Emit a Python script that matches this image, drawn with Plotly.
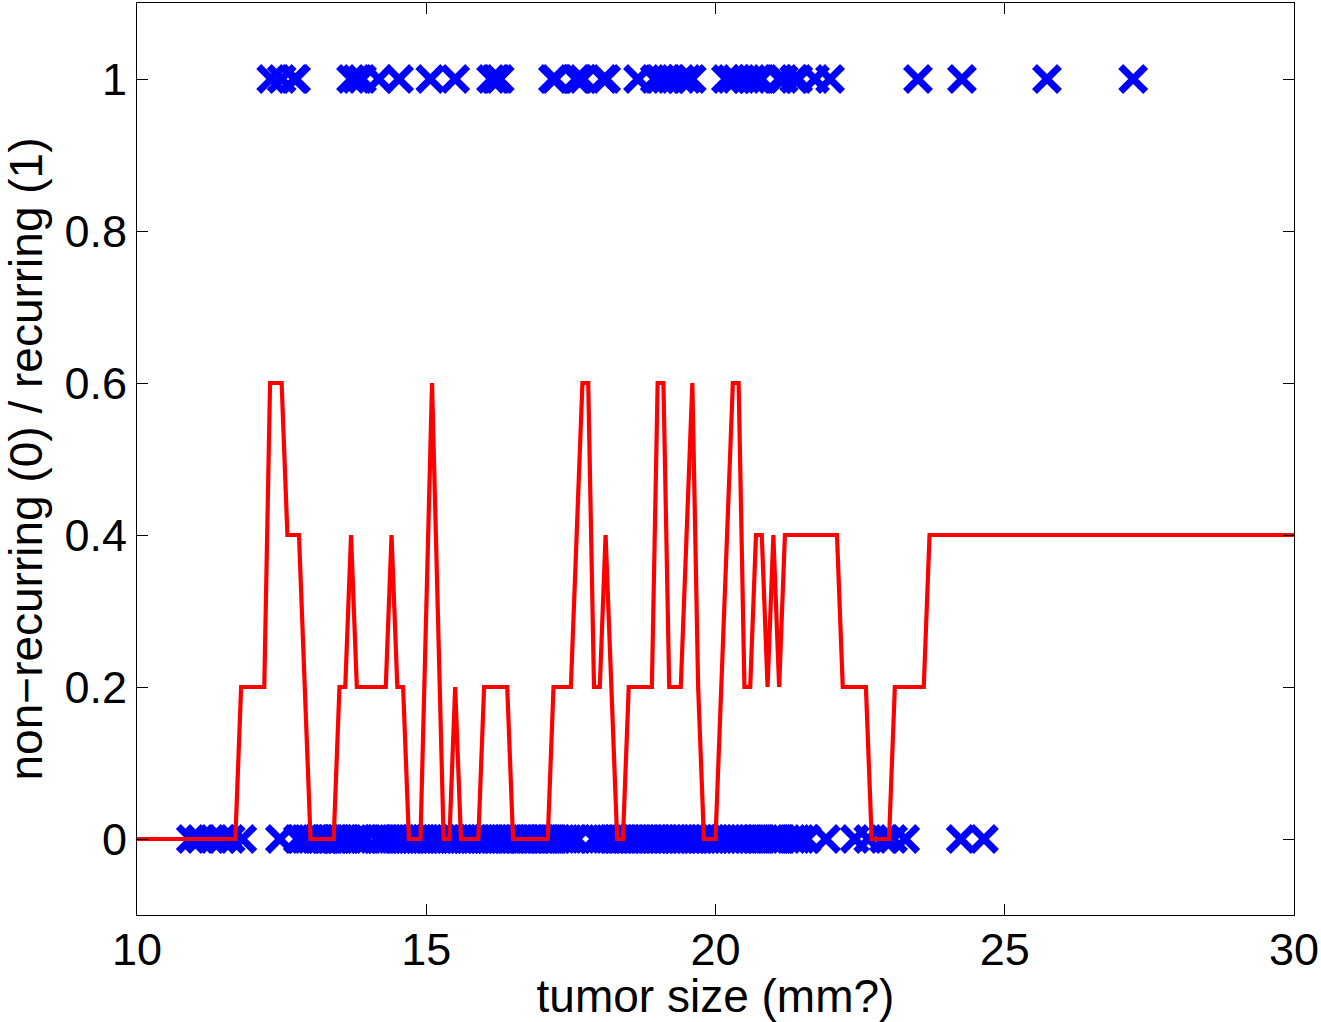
import plotly.graph_objects as go

# Recurring cases (y = 1): tumor size values
recurring_x = [12.32, 12.50, 12.72, 12.75,
               13.70, 13.79, 13.89, 14.18, 14.53,
               15.07, 15.50,
               16.12, 16.19, 16.22, 16.27,
               17.19, 17.23, 17.59, 17.62, 17.64, 17.71, 18.06, 18.11,
               18.66, 18.95, 19.04, 19.14, 19.23, 19.40, 19.51, 19.59,
               20.18, 20.27, 20.36, 20.53, 20.63, 20.72, 20.79, 21.10, 21.18,
               21.36, 21.43, 21.72, 21.98,
               23.50, 24.26, 25.73, 27.22]

# Non-recurring cases (y = 0): tumor size values
nonrecurring_x = [10.93, 11.09, 11.33, 11.47, 11.62, 11.82,
                  12.47, 12.78, 12.83, 12.90, 12.95, 13.01, 13.08, 13.12, 13.17,
                  13.24, 13.28, 13.34, 13.41, 13.45, 13.50, 13.57, 13.61, 13.66,
                  13.74, 13.80, 13.85, 13.91, 13.96,
                  14.15, 14.20, 14.27, 14.34, 14.40, 14.45, 14.52, 14.58, 14.64,
                  14.69, 14.74, 14.81, 14.87, 14.92, 14.98, 15.05, 15.11, 15.16,
                  15.22, 15.28, 15.34, 15.40, 15.46, 15.51, 15.57, 15.63, 15.70,
                  15.75, 15.81, 15.86, 15.93, 15.99, 16.04, 16.10, 16.17, 16.23,
                  16.29, 16.34, 16.41, 16.47, 16.53, 16.60, 16.66, 16.71, 16.78,
                  16.84, 16.90, 16.97, 17.03, 17.08, 17.15, 17.21, 17.27, 17.34,
                  17.40, 17.46, 17.53, 17.61,
                  17.90, 17.96, 18.03, 18.10, 18.16, 18.22, 18.29, 18.35, 18.42,
                  18.48, 18.55, 18.61, 18.68, 18.74, 18.81, 18.87, 18.94, 19.00,
                  19.07, 19.13, 19.20, 19.27, 19.33, 19.40, 19.46, 19.53, 19.60,
                  19.66, 19.73, 19.79, 19.86, 19.93, 19.99, 20.06, 20.13, 20.20,
                  20.27, 20.34, 20.41, 20.48, 20.56, 20.63, 20.71, 20.78, 20.86,
                  20.94, 21.02, 21.09, 21.15,
                  21.33, 21.40, 21.47, 21.58, 21.91,
                  22.41, 22.64, 22.91, 23.07, 23.28,
                  24.24, 24.64]

# Smoothed prediction curve (vertices)
curve_x = [10.0, 11.7, 11.8, 12.2, 12.3, 12.5, 12.6, 12.8, 13.0, 13.4, 13.5, 13.6,
           13.7, 13.8, 14.3, 14.4, 14.5, 14.6, 14.7, 14.9, 15.1, 15.3, 15.4, 15.5,
           15.6, 15.9, 16.0, 16.4, 16.5, 17.1, 17.2, 17.5, 17.7, 17.8, 17.9, 18.0,
           18.1, 18.3, 18.4, 18.5, 18.9, 19.0, 19.1, 19.2, 19.4, 19.6, 19.7, 19.8,
           20.0, 20.3, 20.4, 20.5, 20.6, 20.7, 20.8, 20.9, 21.0, 21.1, 21.2, 22.1,
           22.2, 22.6, 22.7, 23.0, 23.1, 23.6, 23.7, 30.0]
curve_y = [0.0, 0.0, 0.2, 0.2, 0.6, 0.6, 0.4, 0.4, 0.0, 0.0, 0.2, 0.2,
           0.4, 0.2, 0.2, 0.4, 0.2, 0.2, 0.0, 0.0, 0.6, 0.0, 0.0, 0.2,
           0.0, 0.0, 0.2, 0.2, 0.0, 0.0, 0.2, 0.2, 0.6, 0.6, 0.2, 0.2,
           0.4, 0.0, 0.0, 0.2, 0.2, 0.6, 0.6, 0.2, 0.2, 0.6, 0.2, 0.0,
           0.0, 0.6, 0.6, 0.2, 0.2, 0.4, 0.4, 0.2, 0.4, 0.2, 0.4, 0.4,
           0.2, 0.2, 0.0, 0.0, 0.2, 0.2, 0.4, 0.4]

x_ticks = [10, 15, 20, 25, 30]
y_ticks = [0, 0.2, 0.4, 0.6, 0.8, 1]
y_tick_text = ["0", "0.2", "0.4", "0.6", "0.8", "1"]

FONT = "Liberation Sans, Arial, Helvetica, sans-serif"
marker_style = dict(symbol="x-thin", size=25, color="#0000ff",
                    line=dict(width=7, color="#0000ff"))

fig = go.Figure()
fig.add_trace(go.Scatter(x=recurring_x, y=[1] * len(recurring_x), mode="markers",
                         marker=marker_style, showlegend=False, hoverinfo="x+y"))
fig.add_trace(go.Scatter(x=nonrecurring_x, y=[0] * len(nonrecurring_x), mode="markers",
                         marker=marker_style, showlegend=False, hoverinfo="x+y"))
fig.add_trace(go.Scatter(x=curve_x, y=curve_y, mode="lines",
                         line=dict(color="#ff0000", width=4.2), showlegend=False))

axis_common = dict(showline=True, linecolor="black", linewidth=1, mirror="ticks",
                   ticks="inside", ticklen=11, tickcolor="black", tickwidth=1,
                   showgrid=False, zeroline=False,
                   tickfont=dict(family=FONT, size=45, color="black"))

fig.update_layout(
    width=1321, height=1022,
    margin=dict(l=137, r=27, t=3, b=107),
    paper_bgcolor="white", plot_bgcolor="white",
    font=dict(family=FONT, size=45, color="black"),
    xaxis=dict(range=[10, 30], tickvals=x_ticks, ticktext=[str(v) for v in x_ticks],
               ticklabelstandoff=-5,
               title=dict(text="tumor size (mm?)", font=dict(family=FONT, size=46), standoff=4),
               **axis_common),
    yaxis=dict(range=[-0.1, 1.1], tickvals=y_ticks, ticktext=y_tick_text,
               title=dict(text="non\u2212recurring (0) / recurring (1)",
                          font=dict(family=FONT, size=46), standoff=8),
               **axis_common),
)

fig.write_html("out.html", config={"displayModeBar": False},
               post_script="document.body.style.margin='0px';document.body.style.padding='0px';")
